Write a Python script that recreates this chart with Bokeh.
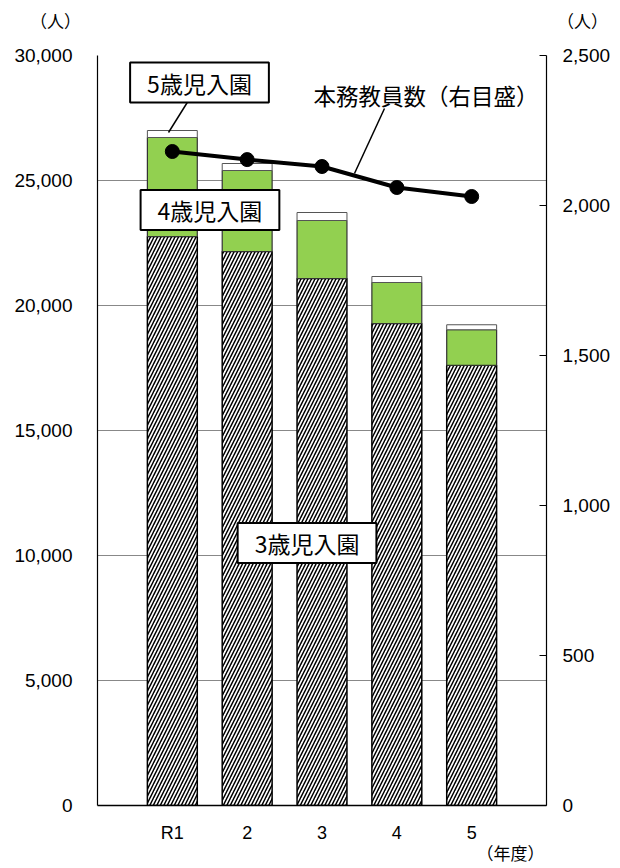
from bokeh.plotting import figure
from bokeh.models import (LinearAxis, Range1d, FixedTicker, NumeralTickFormatter,
                          Label, ColumnDataSource)
from bokeh.embed import file_html
from bokeh.resources import INLINE

years = ["R1", "2", "3", "4", "5"]
xpos = [1, 2, 3, 4, 5]
age3 = [22760, 22160, 21080, 19280, 17610]
age4 = [3960, 3240, 2320, 1640, 1420]
age5 = [280, 280, 320, 240, 200]
staff = [2180, 2153, 2130, 2060, 2030]

y_left_ticks = [0, 5000, 10000, 15000, 20000, 25000, 30000]
y_right_ticks = [0, 500, 1000, 1500, 2000, 2500]

FONT = "Noto Sans CJK JP"
NUMFONT = "Liberation Sans"

top4 = [a + b for a, b in zip(age3, age4)]
top5 = [a + b + c for a, b, c in zip(age3, age4, age5)]

src = ColumnDataSource(dict(x=xpos, age3=age3, top4=top4, top5=top5, staff=staff))

p = figure(frame_width=449, frame_height=750, output_backend="svg", toolbar_location=None,
           x_range=Range1d(0, 6), y_range=Range1d(0, 30000))
p.min_border_left = 97
p.min_border_right = 72
p.min_border_top = 55
p.min_border_bottom = 63
p.outline_line_color = None
p.background_fill_color = "white"
p.border_fill_color = "white"

p.extra_y_ranges = {"right": Range1d(0, 2500)}

# grid
p.xgrid.grid_line_color = None
p.ygrid.grid_line_color = "#888888"
p.ygrid.grid_line_width = 1
p.ygrid.ticker = FixedTicker(ticks=y_left_ticks)

# bars
p.vbar(x="x", width=0.667, bottom=0, top="age3", source=src, fill_color="white",
       hatch_pattern="/", hatch_color="black", hatch_scale=7, hatch_weight=1.5,
       line_color="black", line_width=1.5)
p.vbar(x="x", width=0.667, bottom="age3", top="top4", source=src, fill_color="#92D050",
       line_color="#333333", line_width=1.2)
p.vbar(x="x", width=0.667, bottom="top4", top="top5", source=src, fill_color="white",
       line_color="#555555", line_width=1)

# staff line on right axis
p.line(x="x", y="staff", source=src, y_range_name="right", line_color="black", line_width=4)
p.scatter(x="x", y="staff", source=src, y_range_name="right", size=14,
          fill_color="black", line_color="black")

# axes
xa = p.xaxis[0]
xa.ticker = FixedTicker(ticks=xpos)
xa.major_label_overrides = {x: y for x, y in zip(xpos, years)}
xa.major_tick_line_color = None
xa.major_tick_out = 0
xa.major_tick_in = 0
xa.minor_tick_line_color = None
xa.axis_line_color = "black"
xa.axis_line_width = 1.5
xa.major_label_standoff = 17
xa.major_label_text_font = NUMFONT
xa.major_label_text_font_size = "18px"
xa.major_label_text_color = "black"

ya = p.yaxis[0]
ya.ticker = FixedTicker(ticks=y_left_ticks)
ya.formatter = NumeralTickFormatter(format="0,0")
ya.major_tick_line_color = None
ya.major_tick_out = 0
ya.major_tick_in = 0
ya.minor_tick_line_color = None
ya.axis_line_color = "black"
ya.axis_line_width = 1.2
ya.major_label_standoff = 25
ya.major_label_text_font = NUMFONT
ya.major_label_text_font_size = "19px"
ya.major_label_text_color = "black"

ra = LinearAxis(y_range_name="right")
ra.ticker = FixedTicker(ticks=y_right_ticks)
ra.formatter = NumeralTickFormatter(format="0,0")
ra.major_tick_in = 7
ra.major_tick_out = 0
ra.major_tick_line_color = "black"
ra.minor_tick_line_color = None
ra.axis_line_color = "black"
ra.axis_line_width = 1.2
ra.major_label_standoff = 16
ra.major_label_text_font = NUMFONT
ra.major_label_text_font_size = "19px"
ra.major_label_text_color = "black"
p.add_layout(ra, "right")

# leader lines
lead = ColumnDataSource(dict(x0=[1.216, 3.835], y0=[28200, 27880],
                             x1=[0.949, 3.434], y1=[26920, 25280]))
p.segment(x0="x0", y0="y0", x1="x1", y1="y1", source=lead, line_color="black", line_width=1.5)

def box_label(x, y, text):
    lab = Label(x=x, y=y, text=text, text_align="center", text_baseline="middle",
                text_font=FONT, text_font_size="23px", text_color="black",
                background_fill_color="white", border_line_color="black",
                border_line_width=2, padding=(17, 3))
    p.add_layout(lab)

box_label(1.363, 28920, "5歳児入園")
box_label(1.503, 23820, "4歳児入園")
box_label(2.80, 10500, "3歳児入園")

p.add_layout(Label(x=2.887, y=28440, text="本務教員数（右目盛）", text_align="left",
                   text_baseline="middle", text_font=FONT, text_font_size="22.5px",
                   text_color="black"))

# unit labels (in side panels so they are not clipped by the frame)
p.add_layout(Label(x=-0.561, y=31400, text="（人）", text_align="center", text_baseline="middle",
                   text_font=FONT, text_font_size="17px", text_color="black"), "above")
p.add_layout(Label(x=6.48, y=31400, text="（人）", text_align="center", text_baseline="middle",
                   text_font=FONT, text_font_size="17px", text_color="black"), "above")
p.add_layout(Label(x=5.52, y=-1880, text="（年度）", text_align="center", text_baseline="middle",
                   text_font=FONT, text_font_size="17px", text_color="black"), "below")

open("out.html", "w").write(file_html(p, INLINE))
